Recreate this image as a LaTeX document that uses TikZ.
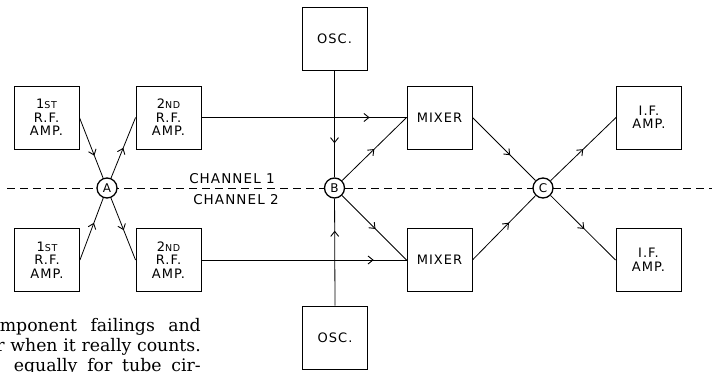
\documentclass[tikz,border=0pt]{standalone}
\usepackage{fontspec}
\usepackage{tikz}
\usetikzlibrary{arrows.meta,decorations.markings}
\newfontfamily\blockfont[LetterSpace=8]{DejaVu Sans}
\newfontfamily\parafont{DejaVu Serif}
\newcommand{\sml}[1]{{\fontsize{9.5}{9.5}\selectfont #1}}

\begin{document}
\begin{tikzpicture}[x=1pt, y=-1pt,
  block/.style={draw, line width=0.9pt, minimum width=65pt, minimum height=63pt, inner sep=1pt, align=center, font=\blockfont\fontsize{13}{13.5}\selectfont},
  junction/.style={circle, draw, line width=1.3pt, fill=white, minimum size=20pt, inner sep=0pt, font=\blockfont\fontsize{12}{12}\selectfont},
  feed/.style={draw, line width=0.8pt, postaction={decorate}, decoration={markings, mark=at position #1 with {\arrow{Straight Barb[length=5pt,width=8pt,line width=0.9pt]}}}},
  feed/.default=0.5,
  chan/.style={font=\blockfont\fontsize{13.5}{13.5}\selectfont, inner sep=0pt},
  para/.style={font=\parafont\fontsize{17.3}{20}\selectfont, text width=201pt, align=right, inner sep=0pt},
]
\useasboundingbox (0,0) rectangle (712,372);
\clip (0,0) rectangle (712,372);

\coordinate (lw) at (7,188);
\coordinate (le) at (712,188);
\draw[line width=0.9pt, dash pattern=on 8pt off 5pt] (lw) -- (le);

\node[block] (rfa1) at (46.5,117.5) {1\sml{ST}\\R.F.\\AMP.};
\node[block] (rfb1) at (168.5,117.5) {2\sml{ND}\\R.F.\\AMP.};
\node[block] (rfa2) at (47,260) {1\sml{ST}\\R.F.\\AMP.};
\node[block] (rfb2) at (168.5,260) {2\sml{ND}\\R.F.\\AMP.};
\node[block] (osc1) at (334.5,39) {OSC.};
\node[block] (osc2) at (335,337.5) {OSC.};
\node[block] (mix1) at (439.5,117.5) {MIXER};
\node[block] (mix2) at (439.5,260) {MIXER};
\node[block] (if1) at (649,117.5) {I.F.\\AMP.};
\node[block] (if2) at (648.5,260) {I.F.\\AMP.};

\node[junction] (A) at (107,188) {A};
\node[junction] (B) at (334.5,188) {B};
\node[junction] (C) at (543,188) {C};

\node[chan] (ch1) at (232,179) {CHANNEL 1};
\node[chan] (ch2) at (236,200) {CHANNEL 2};

\draw[feed=0.63] (rfa1.east) -- (A);
\draw[feed=0.5] (A) -- (rfb1.west);
\draw[feed=0.6] (rfa2.east) -- (A);
\draw[feed=0.52] (A) -- (rfb2.west);
\draw[feed=0.82] (rfb1.east) -- (mix1.west);
\draw[feed=0.84] (rfb2.east) -- (mix2.west);
\draw[feed=0.68] (osc1.south) -- (B);
\draw[feed=0.7] (osc2.north) -- (B);
\draw[feed=0.5] (B) -- (mix1.west);
\draw[feed=0.52] (B) -- (mix2.west);
\draw[feed=0.6] (mix1.east) -- (C);
\draw[feed=0.58] (mix2.east) -- (C);
\draw[feed=0.5] (C) -- (if1.west);
\draw[feed=0.52] (C) -- (if2.west);

\node[para, anchor=base east] (para) at (201,331) {mponent\hfill failings\hfill and\\\leavevmode\llap{r }when it really counts.\\\leavevmode\hspace*{14pt}equally\hfill for\hfill tube\hfill cir-};
\end{tikzpicture}
\end{document}
